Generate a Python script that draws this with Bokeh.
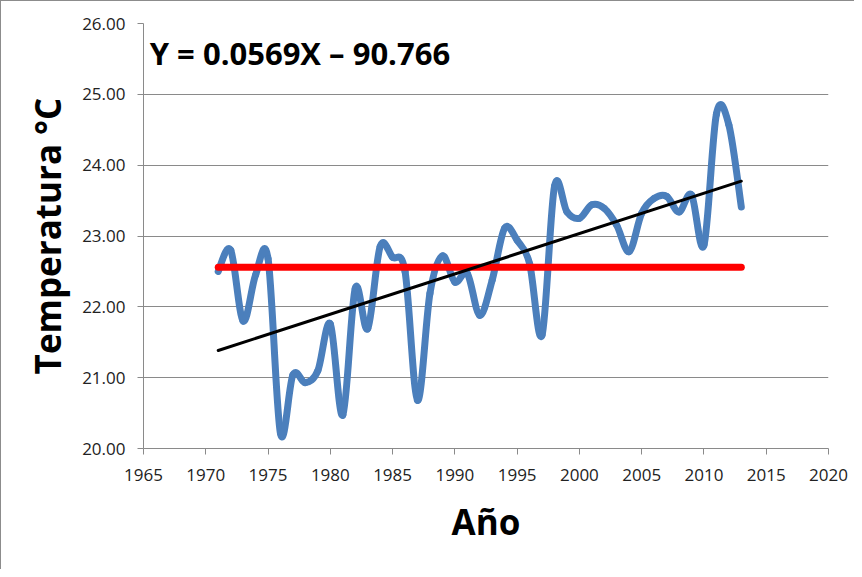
from bokeh.plotting import figure
from bokeh.models import Range1d, FixedTicker, Label, ColumnDataSource
from bokeh.embed import file_html
from bokeh.resources import INLINE
import numpy as np

# ---- data ----
years = list(range(1971, 2014))
temps = [22.50, 22.80, 21.80, 22.45, 22.68, 20.21, 21.04, 20.93, 21.10, 21.76,
         20.47, 22.26, 21.69, 22.85, 22.70, 22.50, 20.68, 22.19, 22.72, 22.35,
         22.47, 21.88, 22.38, 23.11, 22.94, 22.61, 21.60, 23.70, 23.34, 23.25,
         23.44, 23.39, 23.15, 22.78, 23.32, 23.53, 23.56, 23.34, 23.58, 22.87,
         24.72, 24.57, 23.41]
mean_temp = 22.56
slope = 0.0569
intercept = -90.766
x_ticks = [1965, 1970, 1975, 1980, 1985, 1990, 1995, 2000, 2005, 2010, 2015, 2020]
y_ticks = [20, 21, 22, 23, 24, 25, 26]
equation = "Y = 0.0569X \u2013 90.766"
x_title = "Año"
y_title = "Temperatura °C"

GRID = "#8a8a8a"
FONT = "Open Sans"

p = figure(width=854, height=569, output_backend="svg", toolbar_location=None,
           x_range=Range1d(1965, 2020), y_range=Range1d(20, 26),
           min_border_left=142, min_border_top=22, min_border_right=27,
           min_border_bottom=122)
p.styles = {"border-left": "1px solid #8c8c8c", "border-top": "1px solid #8c8c8c"}
p.outline_line_color = None
p.background_fill_color = "white"
p.border_fill_color = "white"

# smooth (Excel-like) curve through the data with bezier segments
X = np.array(years, dtype=float)
Y = np.array(temps, dtype=float)
Xp = np.concatenate([[X[0]], X, [X[-1]]])
Yp = np.concatenate([[Y[0]], Y, [Y[-1]]])
n = len(X)
x0 = X[:-1]; y0 = Y[:-1]; x1 = X[1:]; y1 = Y[1:]
cx0 = x0 + (Xp[2:n + 1] - Xp[0:n - 1]) / 6.0
cy0 = y0 + (Yp[2:n + 1] - Yp[0:n - 1]) / 6.0
cx1 = x1 - (Xp[3:n + 2] - Xp[1:n]) / 6.0
cy1 = y1 - (Yp[3:n + 2] - Yp[1:n]) / 6.0
src = ColumnDataSource(dict(x0=x0, y0=y0, x1=x1, y1=y1, cx0=cx0, cy0=cy0, cx1=cx1, cy1=cy1))
p.bezier(x0="x0", y0="y0", x1="x1", y1="y1", cx0="cx0", cy0="cy0", cx1="cx1", cy1="cy1",
         source=src, line_color="#4b7fbc", line_width=7, line_cap="round")

# mean line
p.line([years[0], years[-1]], [mean_temp, mean_temp], line_color="#ff0000",
       line_width=7, line_cap="round")

# trend line
tx = np.array([years[0], years[-1]], dtype=float)
p.line(tx, slope * tx + intercept, line_color="black", line_width=3, line_cap="round")

p.add_layout(Label(x=1965.5, y=25.58, text=equation, text_font=FONT,
                   text_font_size="31px", text_font_style="bold",
                   text_color="black", text_baseline="alphabetic"))

# axes
for ax in (p.xaxis[0], p.yaxis[0]):
    ax.axis_line_color = GRID
    ax.major_tick_line_color = GRID
    ax.minor_tick_line_color = None
    ax.major_tick_in = 0
    ax.major_tick_out = 6
    ax.major_label_text_font = FONT
    ax.major_label_text_font_size = "17px"
    ax.major_label_text_color = "#222222"
    ax.axis_label_text_font = FONT
    ax.axis_label_text_font_style = "bold"
    ax.axis_label_text_font_size = "35px"
    ax.axis_label_text_color = "black"

p.xaxis.ticker = FixedTicker(ticks=x_ticks)
p.yaxis.ticker = FixedTicker(ticks=y_ticks)
p.yaxis.major_label_overrides = {t: f"{t:.2f}" for t in y_ticks}
p.xaxis.axis_label = x_title
p.yaxis.axis_label = y_title
p.xaxis.major_label_standoff = 14
p.yaxis.major_label_standoff = 12
p.xaxis.axis_label_standoff = 14
p.yaxis.axis_label_standoff = 8

p.xgrid.grid_line_color = None
p.ygrid.grid_line_color = GRID
p.ygrid.grid_line_width = 1

open("out.html", "w").write(file_html(p, INLINE))
